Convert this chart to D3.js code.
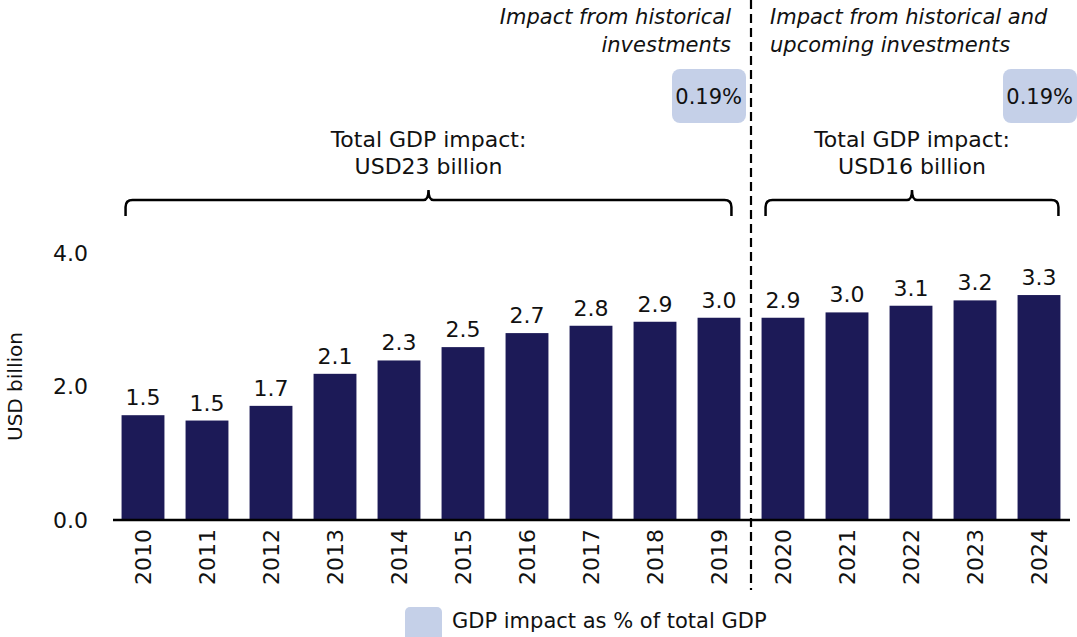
<!DOCTYPE html>
<html>
<head>
<meta charset="utf-8">
<script src="https://cdn.jsdelivr.net/npm/d3@7"></script>
<style>
  body { margin: 0; background: #fff; }
  svg { display: block; font-family: "DejaVu Sans", sans-serif; }
</style>
</head>
<body>
<svg id="chart"></svg>
<script>
const width = 1077;
const height = 637;

// data
const years = ['2010','2011','2012','2013','2014','2015','2016','2017','2018','2019','2020','2021','2022','2023','2024'];
const values = [1.57, 1.49, 1.71, 2.19, 2.39, 2.59, 2.80, 2.91, 2.97, 3.03, 3.03, 3.11, 3.21, 3.29, 3.37];
const valueLabels = ['1.5','1.5','1.7','2.1','2.3','2.5','2.7','2.8','2.9','3.0','2.9','3.0','3.1','3.2','3.3'];
const yTicks = [0, 2, 4];
const periods = [
  {from: '2010', to: '2019', title: ['Impact from historical', 'investments'], share: '0.19%', total: ['Total GDP impact:', 'USD23 billion']},
  {from: '2020', to: '2024', title: ['Impact from historical and', 'upcoming investments'], share: '0.19%', total: ['Total GDP impact:', 'USD16 billion']}
];
const legendLabel = 'GDP impact as % of total GDP';

const barColor = '#1c1a57';
const boxColor = '#c5d0e8';

const svg = d3.select('#chart').attr('width', width).attr('height', height);

const x = d3.scaleBand().domain(years).range([111, 1071]).paddingInner(0.33).paddingOuter(0.165);
const y = d3.scaleLinear().domain([0, 4]).range([520, 253]);
const bw = x.bandwidth();

// bars
svg.append('g').selectAll('rect').data(years)
  .enter().append('rect')
  .attr('x', d => x(d))
  .attr('y', (d, i) => y(values[i]))
  .attr('width', bw)
  .attr('height', (d, i) => y(0) - y(values[i]))
  .attr('fill', barColor);

// value labels
svg.append('g').selectAll('text').data(years)
  .enter().append('text')
  .attr('x', d => x(d) + bw / 2)
  .attr('y', (d, i) => y(values[i]) - 10)
  .attr('text-anchor', 'middle')
  .attr('font-size', 22)
  .attr('fill', '#111')
  .text((d, i) => valueLabels[i]);

// x axis
const xAxis = svg.append('g').attr('transform', `translate(0, ${y(0)})`)
  .call(d3.axisBottom(x).tickSize(0).tickPadding(0));
xAxis.select('.domain').attr('stroke', '#000').attr('stroke-width', 2.5).attr('d', 'M113,0H1070');
xAxis.selectAll('text')
  .attr('font-size', 22)
  .attr('font-family', '"DejaVu Sans", sans-serif')
  .attr('fill', '#111')
  .attr('transform', 'rotate(-90)')
  .attr('text-anchor', 'end')
  .attr('x', -9)
  .attr('y', 0)
  .attr('dy', '0.36em');

// y axis
const yAxis = svg.append('g').attr('transform', 'translate(88, 0)')
  .call(d3.axisLeft(y).tickValues(yTicks).tickFormat(d3.format('.1f')).tickSize(0).tickPadding(0));
yAxis.select('.domain').remove();
yAxis.selectAll('text')
  .attr('font-size', 22)
  .attr('font-family', '"DejaVu Sans", sans-serif')
  .attr('fill', '#111');

svg.append('text')
  .attr('transform', `translate(22, ${y(2)}) rotate(-90)`)
  .attr('text-anchor', 'middle')
  .attr('font-size', 20)
  .attr('fill', '#111')
  .text('USD billion');

// divider
const divX = (x('2019') + bw + x('2020')) / 2;
svg.append('line')
  .attr('x1', divX).attr('x2', divX)
  .attr('y1', 0).attr('y2', 590)
  .attr('stroke', '#000').attr('stroke-width', 2.2)
  .attr('stroke-dasharray', '9,5');

function brace(x0, x1, yy) {
  const cx = (x0 + x1) / 2;
  return `M${x0},${yy + 16} L${x0},${yy + 7} Q${x0},${yy} ${x0 + 7},${yy}` +
    ` L${cx - 5},${yy} Q${cx},${yy} ${cx},${yy - 10} Q${cx},${yy} ${cx + 5},${yy}` +
    ` L${x1 - 7},${yy} Q${x1},${yy} ${x1},${yy + 7} L${x1},${yy + 16}`;
}

periods.forEach((p, k) => {
  const x0 = x(p.from) + 4;
  const x1 = x(p.to) + bw - (k === 0 ? 9 : 2);
  const cx = (x0 + x1) / 2;

  svg.append('path')
    .attr('d', brace(x0, x1, 200))
    .attr('fill', 'none')
    .attr('stroke', '#000')
    .attr('stroke-width', 2.5);

  svg.append('text')
    .attr('text-anchor', 'middle')
    .attr('font-size', 22)
    .attr('fill', '#111')
    .selectAll('tspan').data(p.total).enter().append('tspan')
    .attr('x', cx)
    .attr('y', (d, i) => 147 + i * 27)
    .text(d => d);

  // titles
  const tx = k === 0 ? divX - 20 : divX + 19;
  svg.append('text')
    .attr('text-anchor', k === 0 ? 'end' : 'start')
    .attr('font-size', 21)
    .attr('font-style', 'italic')
    .attr('fill', '#111')
    .selectAll('tspan').data(p.title).enter().append('tspan')
    .attr('x', tx)
    .attr('y', (d, i) => 24 + i * 28)
    .text(d => d);

  // share box
  const bx1 = k === 0 ? divX - 5 : width;
  svg.append('rect')
    .attr('x', bx1 - 74).attr('y', 69)
    .attr('width', 74).attr('height', 54)
    .attr('rx', 8)
    .attr('fill', boxColor);
  svg.append('text')
    .attr('x', bx1 - 4).attr('y', 104)
    .attr('text-anchor', 'end')
    .attr('font-size', 21)
    .attr('fill', '#111')
    .text(p.share);
});

// legend
svg.append('rect')
  .attr('x', 405).attr('y', 607)
  .attr('width', 37).attr('height', 36)
  .attr('rx', 5)
  .attr('fill', boxColor);
svg.append('text')
  .attr('x', 452).attr('y', 628)
  .attr('font-size', 21)
  .attr('fill', '#111')
  .text(legendLabel);
</script>
</body>
</html>
